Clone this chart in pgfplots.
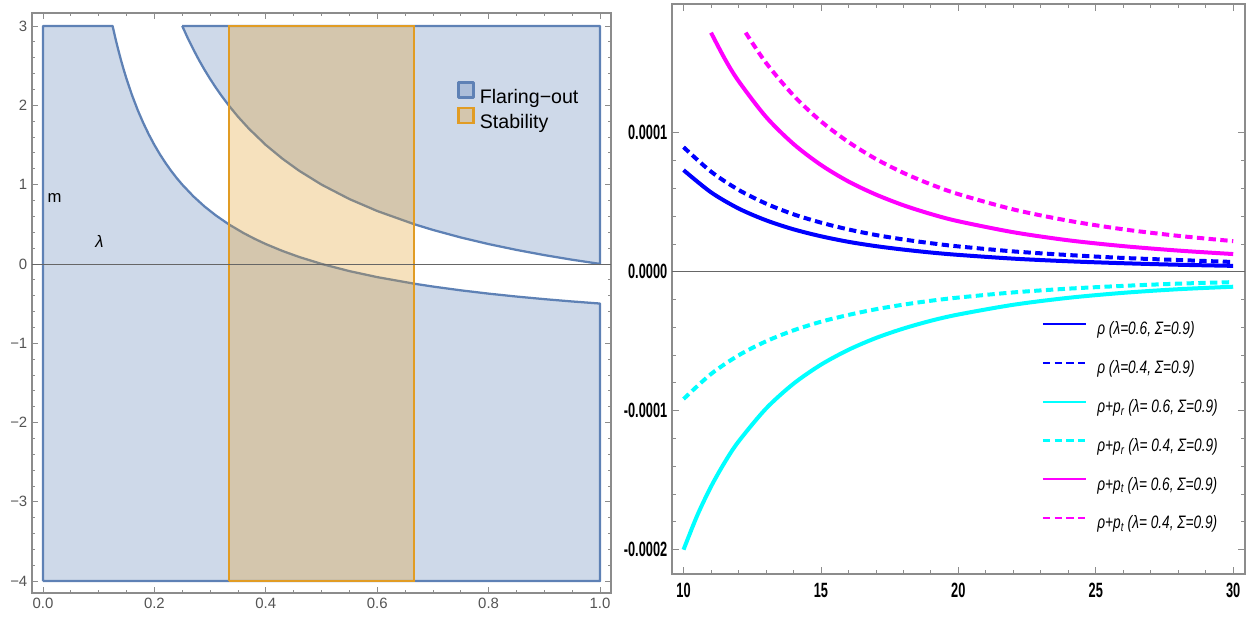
\documentclass[border=0pt]{standalone}
\usepackage{fontspec}
\setmainfont{Liberation Sans}
\usepackage{graphicx}
\usepackage{pgfplots}
\pgfplotsset{compat=1.18}
\definecolor{flare}{rgb}{0.368,0.507,0.71}
\definecolor{stab}{rgb}{0.881,0.611,0.142}
\definecolor{framegray}{gray}{0.55}
\definecolor{labgray}{gray}{0.33}
\definecolor{pblue}{rgb}{0,0,1}
\definecolor{pcyan}{rgb}{0,1,1}
\definecolor{pmag}{rgb}{1,0,1}
\newcommand\sx[1]{\scalebox{0.62}[1]{#1}}
\newcommand\lx[1]{\scalebox{0.76}[1]{#1}}
\begin{document}
\begin{tikzpicture}
\useasboundingbox (0,0) rectangle (939pt,464.25pt);
% ---------------- left panel ----------------
\begin{axis}[
 at={(24pt,19.5pt)}, anchor=south west, scale only axis,
 width=434.25pt, height=435pt,
 xmin=-0.0197, xmax=1.0197, ymin=-4.15, ymax=3.164,
 axis line style={framegray, line width=0.8pt},
 tick style={framegray, line width=0.6pt},
 major tick length=4.2pt, minor tick length=2.5pt,
 xtick={0,0.2,0.4,0.6,0.8,1},
 xticklabels={0.0,0.2,0.4,0.6,0.8,1.0},
 minor x tick num=3,
 ytick={-4,-3,-2,-1,0,1,2,3},
 yticklabels={−4,−3,−2,−1,0,1,2,3},
 minor y tick num=4,
 tick label style={font=\fontsize{11.2}{13}\selectfont, text=labgray},
 legend style={at={(0.734,0.8825)}, anchor=north west, draw=none, fill=none,
   inner sep=0pt, row sep=0pt, column sep=3pt,
   nodes={inner sep=1pt, font=\fontsize{14.7}{16}\selectfont}},
 legend cell align=left,
 legend image code/.code={\draw[#1] (0pt,-0.3pt) rectangle (11.25pt,10.95pt);},
]
% Flaring-out region, lower-left piece
\addplot[draw=flare, line width=1.7pt, fill=flare, fill opacity=0.3, line join=round] coordinates {
 (0,-4) (0,3) (0.125,3) (0.13,2.846) (0.135,2.704) (0.14,2.571) (0.145,2.448) (0.15,2.333)
 (0.16,2.125) (0.17,1.941) (0.18,1.778) (0.19,1.632) (0.2,1.5) (0.21,1.381) (0.22,1.273)
 (0.23,1.174) (0.24,1.083) (0.25,1.0) (0.27,0.852) (0.29,0.724) (0.31,0.613) (0.3333,0.5)
 (0.36,0.389) (0.38,0.316) (0.4,0.25) (0.43,0.163) (0.46,0.087) (0.5,0) (0.55,-0.0909)
 (0.6,-0.1667) (0.6667,-0.25) (0.7,-0.2857) (0.75,-0.3333) (0.8,-0.375) (0.85,-0.4118)
 (0.9,-0.4444) (0.95,-0.4737) (1,-0.5) (1,-4) (0,-4)};
\addlegendentry{Flaring−out}
% Flaring-out region, upper-right piece
\addplot[forget plot, draw=flare, line width=1.7pt, fill=flare, fill opacity=0.3, line join=round] coordinates {
 (0.25,3) (1,3) (1,0) (0.95,0.0526) (0.9,0.1111) (0.85,0.1765) (0.8,0.25) (0.75,0.3333)
 (0.7,0.4286) (0.6667,0.5) (0.6,0.667) (0.55,0.818) (0.5,1.0) (0.46,1.174) (0.43,1.326)
 (0.4,1.5) (0.37,1.703) (0.35,1.857) (0.3333,2.0) (0.32,2.125) (0.31,2.226) (0.3,2.333)
 (0.29,2.448) (0.28,2.571) (0.27,2.704) (0.26,2.846) (0.25,3)};
% Stability region
\addplot[draw=stab, line width=1.7pt, fill=stab, fill opacity=0.3, line join=miter] coordinates {
 (0.3333,-4) (0.3333,3) (0.6667,3) (0.6667,-4) (0.3333,-4)};
\addlegendentry{Stability}
\draw[gray!80!black, line width=0.5pt] (axis cs:-0.0197,0) -- (axis cs:1.0197,0);
\node[font=\fontsize{12.5}{14}\selectfont] at (axis cs:0.0206,0.835) {m};
\node[font=\fontsize{12.5}{14}\selectfont\itshape] at (axis cs:0.1014,0.277) {λ};
\end{axis}
% ---------------- right panel ----------------
\begin{axis}[
 at={(504pt,33.75pt)}, anchor=south west, scale only axis,
 width=429.75pt, height=427.5pt,
 xmin=9.58, xmax=30.43, ymin=-0.0002175, ymax=0.0001926,
 axis line style={framegray, line width=0.8pt},
 tick style={framegray, line width=0.6pt},
 major tick length=5pt, minor tick length=3pt,
 xtick={10,15,20,25,30},
 xticklabels={\sx{10},\sx{15},\sx{20},\sx{25},\sx{30}},
 minor x tick num=4,
 ytick={-0.0002,-0.0001,0,0.0001},
 yticklabels={\sx{-0.0002},\sx{-0.0001},\sx{0.0000},\sx{0.0001}},
 minor y tick num=4,
 scaled y ticks=false,
 tick label style={font=\bfseries\fontsize{15.5}{17}\selectfont},
 xticklabel style={yshift=-3.5pt},
 legend style={at={(0.645,0.445)}, anchor=north west, draw=none, fill=none,
   inner sep=0pt, row sep=15.8pt, column sep=7pt,
   nodes={inner sep=1pt, font=\itshape\fontsize{13.5}{15}\selectfont}},
 legend cell align=left,
 legend image code/.code={\draw[#1, line width=1.6pt] (0pt,4pt) -- (32pt,4pt);},
 every axis plot/.append style={line width=3pt, smooth},
]
\draw[gray!80!black, line width=0.5pt] (axis cs:9.58,0) -- (axis cs:30.43,0);
\addplot[pblue] coordinates {
 (10,7.31e-5) (11,5.71e-5) (12,4.55e-5) (13,3.70e-5) (14,3.05e-5) (15,2.55e-5)
 (16,2.15e-5) (17,1.84e-5) (18,1.59e-5) (19,1.38e-5) (20,1.21e-5) (22,0.94e-5)
 (24,0.75e-5) (26,0.61e-5) (28,0.50e-5) (30,0.42e-5)};
\addlegendentry{\lx{ρ (λ=0.6, Σ=0.9)}}
\addplot[pblue, dash pattern=on 5.5pt off 3.3pt] coordinates {
 (10,8.96e-5) (11,7.20e-5) (12,5.89e-5) (13,4.90e-5) (14,4.13e-5) (15,3.53e-5)
 (16,3.04e-5) (17,2.64e-5) (18,2.32e-5) (19,2.05e-5) (20,1.82e-5) (22,1.46e-5)
 (24,1.20e-5) (26,0.99e-5) (28,0.84e-5) (30,0.70e-5)};
\addlegendentry{\lx{ρ (λ=0.4, Σ=0.9)}}
\addplot[pcyan] coordinates {
 (10,-2.00e-4) (10.5,-1.753e-4) (11,-1.546e-4) (11.5,-1.371e-4) (12,-1.222e-4)
 (13,-0.985e-4) (14,-0.806e-4) (15,-0.669e-4) (16,-0.562e-4) (17,-0.477e-4)
 (18,-0.409e-4) (19,-0.353e-4) (20,-0.308e-4) (22,-0.238e-4) (24,-0.188e-4)
 (26,-0.152e-4) (28,-0.126e-4) (30,-0.108e-4)};
\addlegendentry{\lx{ρ+p\textsubscript{r} (λ= 0.6, Σ=0.9)}}
\addplot[pcyan, dash pattern=on 5.5pt off 3.3pt] coordinates {
 (10,-9.16e-5) (11,-7.36e-5) (12,-6.02e-5) (13,-5.01e-5) (14,-4.22e-5) (15,-3.60e-5)
 (16,-3.11e-5) (17,-2.70e-5) (18,-2.37e-5) (19,-2.09e-5) (20,-1.86e-5) (22,-1.49e-5)
 (24,-1.22e-5) (26,-1.02e-5) (28,-0.86e-5) (30,-0.75e-5)};
\addlegendentry{\lx{ρ+p\textsubscript{r} (λ= 0.4, Σ=0.9)}}
\addplot[pmag] coordinates {
 (11,1.72e-4) (11.5,1.532e-4) (12,1.372e-4) (13,1.114e-4) (14,0.919e-4) (15,0.768e-4)
 (16,0.649e-4) (17,0.555e-4) (18,0.478e-4) (19,0.415e-4) (20,0.363e-4) (22,0.284e-4)
 (24,0.226e-4) (26,0.184e-4) (28,0.152e-4) (30,0.127e-4)};
\addlegendentry{\lx{ρ+p\textsubscript{t} (λ= 0.6, Σ=0.9)}}
\addplot[pmag, dash pattern=on 5.5pt off 3.3pt] coordinates {
 (12.26,1.72e-4) (13,1.503e-4) (14,1.268e-4) (15,1.082e-4) (16,0.933e-4) (17,0.811e-4)
 (18,0.711e-4) (19,0.628e-4) (20,0.558e-4) (22,0.448e-4) (24,0.367e-4) (26,0.305e-4)
 (28,0.258e-4) (30,0.220e-4)};
\addlegendentry{\lx{ρ+p\textsubscript{t} (λ= 0.4, Σ=0.9)}}
\end{axis}
\end{tikzpicture}
\end{document}
